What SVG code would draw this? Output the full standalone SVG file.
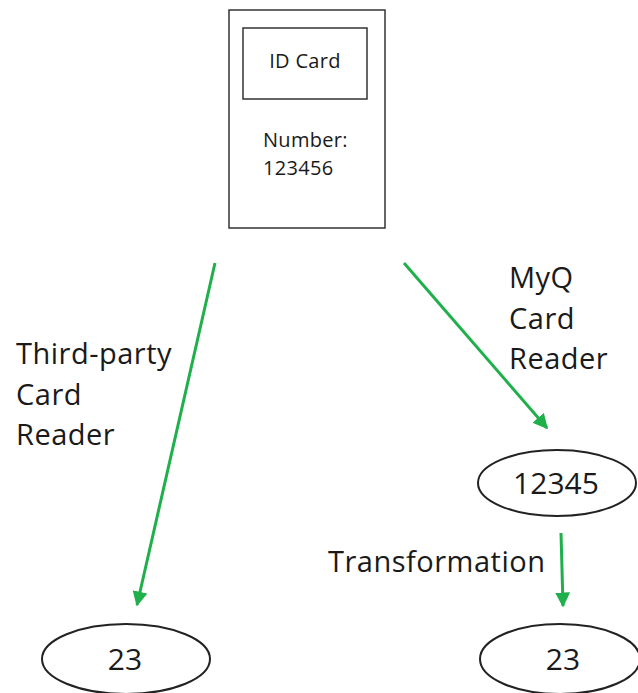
<svg xmlns="http://www.w3.org/2000/svg" width="638" height="693" viewBox="0 0 638 693">
<defs>
<style>
.box{fill:#fff;stroke:#333;stroke-width:1.5}
.ell{fill:#fff;stroke:#222;stroke-width:2}
.t{font-family:"Open Sans","Noto Sans",sans-serif;fill:#1a1a1a}
.s{font-size:20px;letter-spacing:0.3px}
.m{font-size:29px;letter-spacing:0.5px}
.n{font-size:30px}
.c{stroke:#1fb04c;stroke-width:3;fill:none}
</style>
<marker id="ah" viewBox="0 0 10 10" refX="9" refY="5" markerWidth="5" markerHeight="5" orient="auto" markerUnits="strokeWidth">
<path d="M0,0 L10,5 L0,10 Z" fill="#1fb04c"/>
</marker>
</defs>
<rect width="638" height="693" fill="#fff"/>
<g id="card">
<rect class="box" x="229" y="10" width="156" height="218"/>
<rect class="box" x="243" y="28" width="124" height="71"/>
<text class="t s" x="305" y="68" text-anchor="middle">ID Card</text>
<text class="t s" x="263" y="147">Number:</text>
<text class="t s" x="263" y="175">123456</text>
</g>
<g id="n12345">
<ellipse class="ell" cx="557" cy="483" rx="79" ry="33"/>
<text class="t n" x="556" y="494" text-anchor="middle">12345</text>
</g>
<g id="left23">
<ellipse class="ell" cx="126" cy="659" rx="84" ry="35"/>
<text class="t n" x="125" y="670" text-anchor="middle">23</text>
</g>
<g id="right23">
<ellipse class="ell" cx="560" cy="659" rx="80" ry="35"/>
<text class="t n" x="563" y="670" text-anchor="middle">23</text>
</g>
<g id="connectors">
<line class="c" x1="215" y1="263" x2="137" y2="605" marker-end="url(#ah)"/>
<line class="c" x1="404" y1="263" x2="547" y2="428" marker-end="url(#ah)"/>
<line class="c" x1="561" y1="533" x2="563" y2="606" marker-end="url(#ah)"/>
</g>
<g id="labels">
<text class="t m" x="16" y="364">Third-party</text>
<text class="t m" x="16" y="405">Card</text>
<text class="t m" x="16" y="445">Reader</text>
<text class="t m" x="509" y="288">MyQ</text>
<text class="t m" x="509" y="329">Card</text>
<text class="t m" x="509" y="369">Reader</text>
<text class="t m" x="328" y="572">Transformation</text>
</g>
</svg>
